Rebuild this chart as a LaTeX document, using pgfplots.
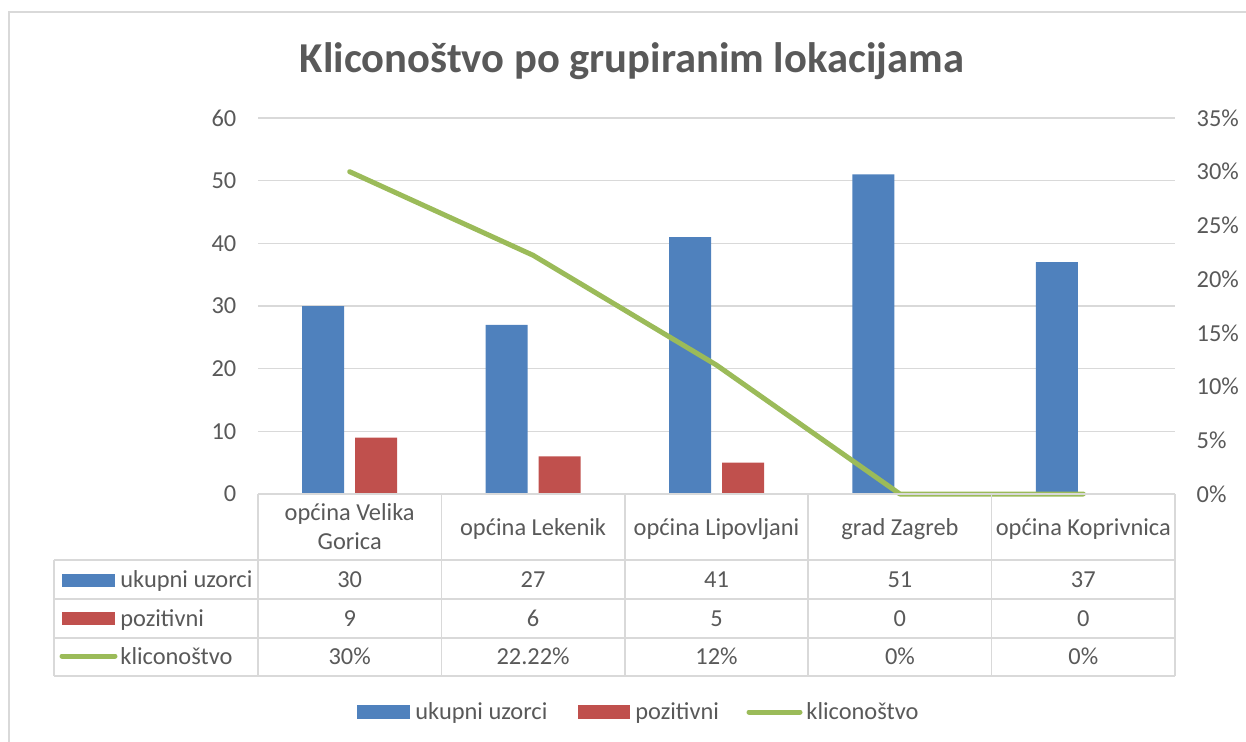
\documentclass[border=0pt]{standalone}
\usepackage{pgfplots}
\pgfplotsset{compat=1.18}
\usepackage{fontspec}
\setmainfont{Carlito}
\definecolor{cblue}{HTML}{4F81BD}
\definecolor{cred}{HTML}{C0504D}
\definecolor{cgreen}{HTML}{9BBB59}
\definecolor{txtgray}{HTML}{595959}
\definecolor{gridgray}{HTML}{D9D9D9}
\newcommand\fs{\fontsize{12.2}{15}\selectfont}
\begin{document}
\begin{tikzpicture}
% primary axis: bars
\begin{axis}[
  at={(129pt,-247pt)}, anchor=south west,
  scale only axis, width=458.5pt, height=188pt,
  xmin=-0.5, xmax=4.5, ymin=0, ymax=60,
  ytick={0,10,20,30,40,50,60},
  xtick=\empty,
  axis line style={draw=none},
  major tick length=0pt,
  ymajorgrids, grid style={color=gridgray, line width=0.75pt},
  ybar=5.5pt, bar width=21pt,
  yticklabel style={font=\fs, text=txtgray, xshift=-7.3pt},
  /pgf/number format/assume math mode=true,
  clip=false,
]
\addplot[fill=cblue, draw=none] coordinates {(0,30) (1,27) (2,41) (3,51) (4,37)};
\addplot[fill=cred, draw=none] coordinates {(0,9) (1,6) (2,5) (3,0) (4,0)};
\end{axis}
% secondary axis: line
\begin{axis}[
  at={(129pt,-247pt)}, anchor=south west,
  scale only axis, width=458.5pt, height=188pt,
  xmin=-0.5, xmax=4.5, ymin=0, ymax=0.35,
  axis y line*=right, axis x line=none,
  axis line style={draw=none},
  major tick length=0pt,
  ytick={0,0.05,0.1,0.15,0.2,0.25,0.3,0.35},
  yticklabels={0\%,5\%,10\%,15\%,20\%,25\%,30\%,35\%},
  yticklabel style={font=\fs, text=txtgray, xshift=7.3pt},
  clip=false,
]
\addplot[cgreen, line width=2.5pt, line cap=round, line join=round] coordinates {(0,0.30) (1,0.2222) (2,0.12) (3,0) (4,0)};
\end{axis}
\begin{scope}[x=0.5pt, y=-0.5pt]
% frame
\draw[gridgray, line width=0.75pt] (9,742) -- (9,12) -- (1246,12);
% title
\node[anchor=base, font=\fontsize{21.3}{25}\selectfont\bfseries, text=txtgray] at (632,73) {Kliconoštvo po grupiranim lokacijama};
% data table grid
\begin{scope}[gridgray, line width=0.75pt]
\draw (258,494) -- (1175,494);
\foreach \yy in {560,599,638,676} \draw (54,\yy) -- (1175,\yy);
\foreach \xx in {258,441.4,624.8,808.2,991.6,1175} \draw (\xx,494) -- (\xx,676);
\draw (54,560) -- (54,676);
\end{scope}
% category labels
\begin{scope}[font=\fs, text=txtgray]
\node[anchor=base, align=center] at (349.7,520) {općina Velika};
\node[anchor=base] at (349.7,549) {Gorica};
\node[anchor=base] at (533.1,535) {općina Lekenik};
\node[anchor=base] at (716.5,535) {općina Lipovljani};
\node[anchor=base] at (899.9,535) {grad Zagreb};
\node[anchor=base] at (1083.3,535) {općina Koprivnica};
% row headers
\fill[cblue] (62,574) rectangle (115,587);
\node[anchor=base west, inner sep=0pt] at (120,587) {ukupni uzorci};
\fill[cred] (62,612) rectangle (115,625);
\node[anchor=base west, inner sep=0pt] at (120,626) {pozitivni};
\draw[cgreen, line width=2.5pt, line cap=round] (62,656) -- (115,656);
\node[anchor=base west, inner sep=0pt] at (120,664) {kliconoštvo};
% values
\foreach \v [count=\i from 0] in {30,27,41,51,37}
  \node[anchor=base] at (349.7+183.4*\i,587) {\v};
\foreach \v [count=\i from 0] in {9,6,5,0,0}
  \node[anchor=base] at (349.7+183.4*\i,626) {\v};
\foreach \v [count=\i from 0] in {30\%,22.22\%,12\%,0\%,0\%}
  \node[anchor=base] at (349.7+183.4*\i,664) {\v};
% legend
\fill[cblue] (357,705) rectangle (410,719);
\node[anchor=base west, inner sep=0pt] at (415,719) {ukupni uzorci};
\fill[cred] (578,705) rectangle (630,719);
\node[anchor=base west, inner sep=0pt] at (635,719) {pozitivni};
\draw[cgreen, line width=2.5pt, line cap=round] (749,712) -- (800,712);
\node[anchor=base west, inner sep=0pt] at (806,719) {kliconoštvo};
\end{scope}
\pgfresetboundingbox
\path (0,0) rectangle (1246,742);
\end{scope}
\end{tikzpicture}
\end{document}
